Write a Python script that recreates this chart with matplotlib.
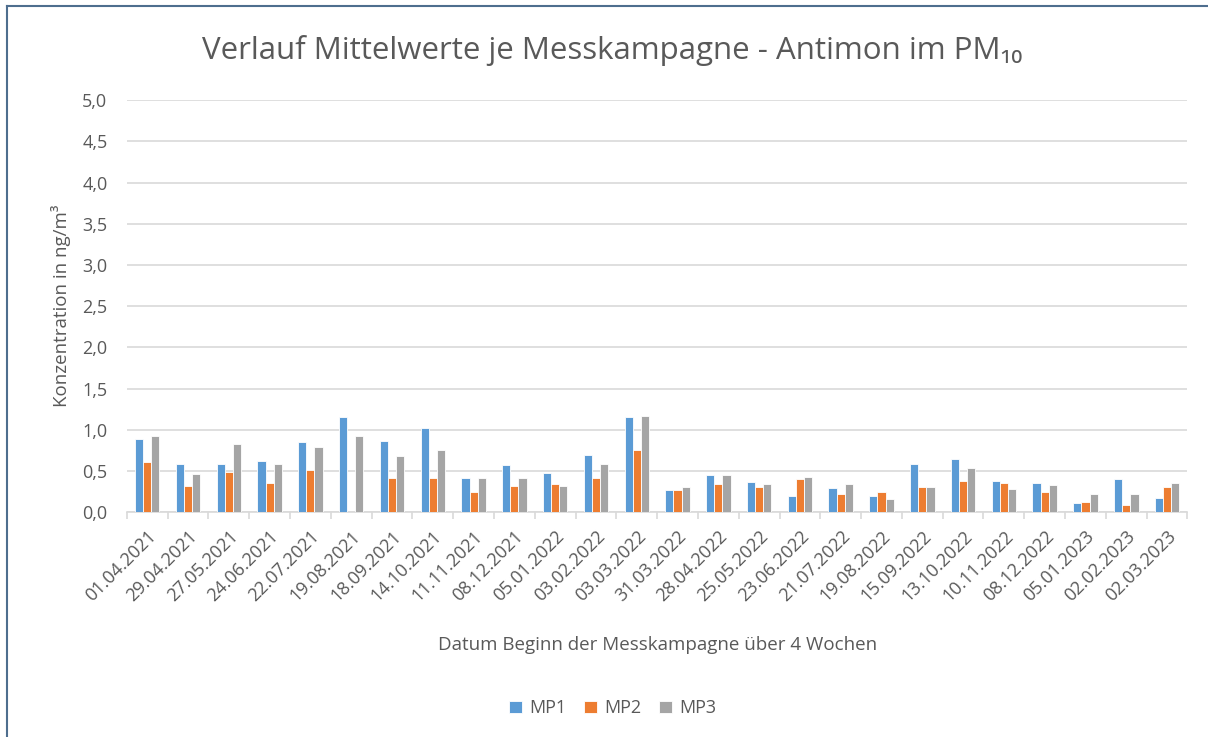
import numpy as np
import matplotlib.pyplot as plt
from matplotlib.lines import Line2D

# Daten: Mittelwerte je Messkampagne (ng/m3)
dates = ['01.04.2021', '29.04.2021', '27.05.2021', '24.06.2021', '22.07.2021',
         '19.08.2021', '18.09.2021', '14.10.2021', '11.11.2021', '08.12.2021',
         '05.01.2022', '03.02.2022', '03.03.2022', '31.03.2022', '28.04.2022',
         '25.05.2022', '23.06.2022', '21.07.2022', '19.08.2022', '15.09.2022',
         '13.10.2022', '10.11.2022', '08.12.2022', '05.01.2023', '02.02.2023',
         '02.03.2023']
mp1 = [0.89, 0.58, 0.58, 0.62, 0.85, 1.15, 0.87, 1.02, 0.41, 0.57,
       0.47, 0.70, 1.16, 0.27, 0.45, 0.37, 0.20, 0.29, 0.20, 0.59,
       0.64, 0.38, 0.35, 0.11, 0.40, 0.17]
mp2 = [0.61, 0.32, 0.49, 0.35, 0.51, np.nan, 0.41, 0.41, 0.24, 0.32,
       0.34, 0.41, 0.76, 0.27, 0.34, 0.31, 0.40, 0.22, 0.25, 0.30,
       0.38, 0.35, 0.25, 0.12, 0.09, 0.31]
mp3 = [0.92, 0.46, 0.83, 0.58, 0.79, 0.93, 0.68, 0.76, 0.41, 0.42,
       0.32, 0.59, 1.17, 0.30, 0.45, 0.34, 0.43, 0.34, 0.16, 0.30,
       0.54, 0.28, 0.33, 0.22, 0.22, 0.35]
series = ['MP1', 'MP2', 'MP3']
colors = ['#5B9BD5', '#ED7D31', '#A5A5A5']

plt.rcParams['font.family'] = ['Open Sans', 'DejaVu Sans']
txt = '#595959'

fig = plt.figure(figsize=(12.08, 7.37), dpi=100)
ax = fig.add_axes([0.105, 0.305, 0.878, 0.559])

x = np.arange(len(dates))
w = 0.2
for i, (vals, c, name) in enumerate(zip([mp1, mp2, mp3], colors, series)):
    ax.bar(x + (i - 1) * w, vals, width=w, color=c, edgecolor='white',
           linewidth=0.6, label=name, zorder=3)

ax.set_xlim(-0.5, len(dates) - 0.5)
ax.set_ylim(0, 5.0)
ax.set_yticks(np.arange(0, 5.01, 0.5))
ax.set_yticklabels([f'{v:.1f}'.replace('.', ',') for v in np.arange(0, 5.01, 0.5)],
                   fontsize=13, color=txt)
ax.grid(axis='y', color='#D9D9D9', linewidth=1.2, zorder=0)

ax.set_xticks(x)
ax.set_xticklabels(dates, rotation=45, ha='right', rotation_mode='anchor',
                   fontsize=13, color=txt)
ax.tick_params(axis='x', length=0, pad=11)
ax.tick_params(axis='y', length=0, pad=14)
# kleine Trennstriche zwischen Kategorien
ax.set_xticks(np.arange(-0.5, len(dates)), minor=True)
ax.tick_params(axis='x', which='minor', length=5, color='#D9D9D9', width=1.2)

for s in ['top', 'right', 'left']:
    ax.spines[s].set_visible(False)
ax.spines['bottom'].set_color('#D9D9D9')
ax.spines['bottom'].set_linewidth(1.2)

ax.set_ylabel('Konzentration in ng/m³', fontsize=13.5, color=txt, labelpad=8)
ax.set_xlabel('Datum Beginn der Messkampagne über 4 Wochen', fontsize=13.5,
              color=txt, labelpad=22)

fig.text(0.507, 0.932, 'Verlauf Mittelwerte je Messkampagne - Antimon im PM₁₀',
         ha='center', va='center', fontsize=22.5, color=txt)

ax.legend(loc='center', bbox_to_anchor=(0.458, -0.476), ncol=3, frameon=False,
          fontsize=13, handlelength=0.7, handleheight=0.7, columnspacing=1.0,
          handletextpad=0.4, labelcolor=txt)

# Rahmen (oben und links sichtbar)
fig.add_artist(Line2D([0.006, 1.0], [0.992, 0.992], color='#4E6E8E', linewidth=1.5))
fig.add_artist(Line2D([0.006, 0.006], [0.0, 0.992], color='#4E6E8E', linewidth=1.5))

fig.savefig('out.png', dpi=100)
